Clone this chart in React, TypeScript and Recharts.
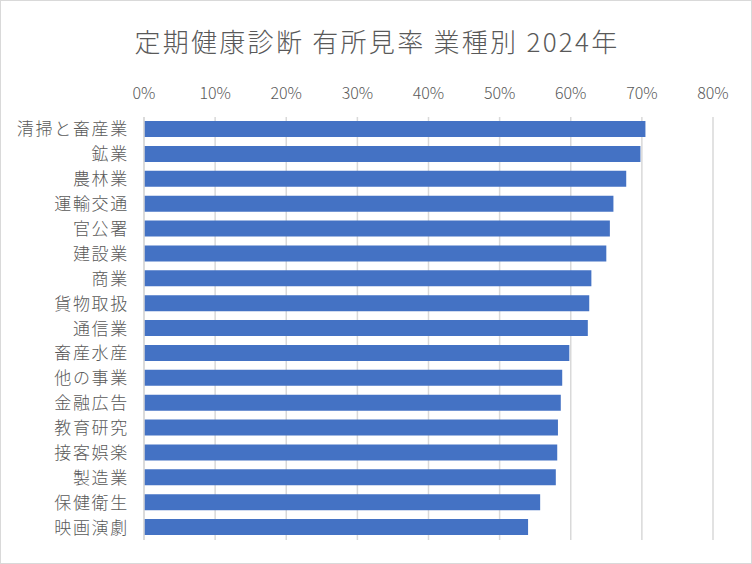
import { Bar, BarChart, CartesianGrid, XAxis, YAxis } from "recharts";

const INDUSTRIES = [
  "清掃と畜産業",
  "鉱業",
  "農林業",
  "運輸交通",
  "官公署",
  "建設業",
  "商業",
  "貨物取扱",
  "通信業",
  "畜産水産",
  "他の事業",
  "金融広告",
  "教育研究",
  "接客娯楽",
  "製造業",
  "保健衛生",
  "映画演劇",
];

// 有所見率 (%)
const RATES = [70.5, 69.8, 67.8, 66.0, 65.5, 65.0, 62.9, 62.6, 62.4, 59.8, 58.8, 58.6, 58.2, 58.1, 57.9, 55.7, 54.0];

const X_TICKS = [0, 10, 20, 30, 40, 50, 60, 70, 80];

const FONT = "'Noto Sans CJK JP', 'Noto Sans', sans-serif";

export default function App() {
  const data = INDUSTRIES.map((name, i) => ({ name, rate: RATES[i] }));

  return (
    <div
      style={{
        position: "absolute",
        left: 0,
        top: 0,
        width: 752,
        height: 564,
        boxSizing: "border-box",
        border: "1px solid #d9d9d9",
        background: "#fff",
        fontFamily: FONT,
      }}
    >
      <div
        style={{
          position: "absolute",
          left: 0,
          top: 21,
          width: 752,
          textAlign: "center",
          fontSize: 26,
          fontWeight: 300,
          letterSpacing: 2.3,
          color: "#595959",
        }}
      >
        定期健康診断 有所見率 業種別 2024年
      </div>
      <BarChart
        width={750}
        height={562}
        data={data}
        layout="vertical"
        margin={{ top: 86, right: 38, bottom: 23, left: 0 }}
        barSize={16}
        style={{ position: "absolute", left: 0, top: 0 }}
      >
        <CartesianGrid horizontal={false} stroke="#d9d9d9" strokeWidth={1.5} />
        <XAxis
          type="number"
          orientation="top"
          domain={[0, 80]}
          ticks={X_TICKS}
          tickFormatter={(v) => `${v}%`}
          axisLine={false}
          tickLine={false}
          tickSize={0}
          tickMargin={18}
          height={30}
          tick={{ fontSize: 16, fill: "#595959", fontFamily: FONT, fontWeight: 300 }}
        />
        <YAxis
          type="category"
          dataKey="name"
          width={143}
          axisLine={{ stroke: "#d9d9d9", strokeWidth: 1.5 }}
          tickLine={false}
          tickSize={0}
          tickMargin={15}
          interval={0}
          tick={{ fontSize: 17, fill: "#595959", fontFamily: FONT, fontWeight: 300, letterSpacing: 1.7 }}
        />
        <Bar dataKey="rate" fill="#4472c4" isAnimationActive={false} />
      </BarChart>
    </div>
  );
}
